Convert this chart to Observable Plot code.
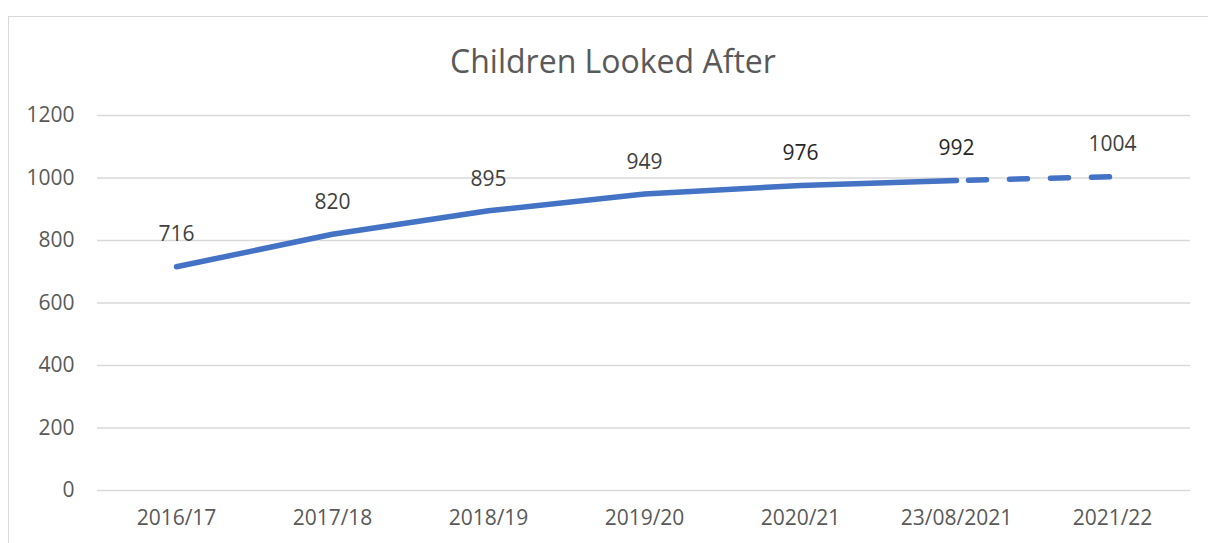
<!DOCTYPE html>
<html>
<head>
<meta charset="utf-8">
<script src="https://cdn.jsdelivr.net/npm/d3@7"></script>
<script src="https://cdn.jsdelivr.net/npm/@observablehq/plot@0.6"></script>
<style>
  html, body { margin: 0; padding: 0; background: #fff; }
  #wrap { position: relative; width: 1208px; height: 543px; overflow: hidden; font-family: "Open Sans", sans-serif; }
  #border { position: absolute; left: 8px; top: 16px; width: 1220px; height: 560px; border: 1.5px solid #d9d9d9; box-sizing: border-box; pointer-events: none; }
  #title { position: absolute; left: 0; top: 36px; width: 1226px; text-align: center; font-size: 32px; color: #595959; line-height: 50px; }
  #chart { position: absolute; left: 0; top: 95px; }
</style>
</head>
<body>
<div id="wrap">
  <div id="border"></div>
  <div id="title">Children Looked After</div>
  <div id="chart"></div>
</div>
<script>
const categories = ["2016/17", "2017/18", "2018/19", "2019/20", "2020/21", "23/08/2021", "2021/22"];
const values = [716, 820, 895, 949, 976, 992, 1004];
const solidIdx = [0, 1, 2, 3, 4, 5];
const dashedIdx = [5, 6];
const yTicks = [0, 200, 400, 600, 800, 1000, 1200];

const data = categories.map((c, i) => ({cat: c, value: values[i], i}));

const plot = Plot.plot({
  width: 1208,
  height: 448,
  marginLeft: 97,
  marginRight: 18,
  marginTop: 20,
  marginBottom: 53,
  style: {fontFamily: "Open Sans, sans-serif", fontSize: "21px", color: "#595959", background: "transparent"},
  x: {type: "point", domain: categories, padding: 0.5, label: null, tickSize: 0, tickPadding: 20},
  y: {domain: [0, 1200], ticks: yTicks, tickFormat: d => String(d), label: null, tickSize: 0, tickPadding: 23, grid: false},
  marks: [
    Plot.ruleY(yTicks, {stroke: "#d9d9d9", strokeWidth: 1.5, strokeOpacity: 1}),
    Plot.line(data.filter(d => solidIdx.includes(d.i)), {x: "cat", y: "value", stroke: "#4472C4", strokeWidth: 5.5, strokeLinecap: "round", strokeLinejoin: "round"}),
    Plot.line(data.filter(d => dashedIdx.includes(d.i)), {x: "cat", y: "value", stroke: "#4472C4", strokeWidth: 5.5, strokeLinecap: "round", strokeDasharray: "18,23", strokeDashoffset: -12}),
    Plot.text(data, {x: "cat", y: "value", text: d => String(d.value), dy: -32, fill: d => (d.i === 4 || d.i === 5) ? "#262626" : "#404040", fontSize: 21})
  ]
});
document.getElementById("chart").appendChild(plot);
</script>
</body>
</html>
